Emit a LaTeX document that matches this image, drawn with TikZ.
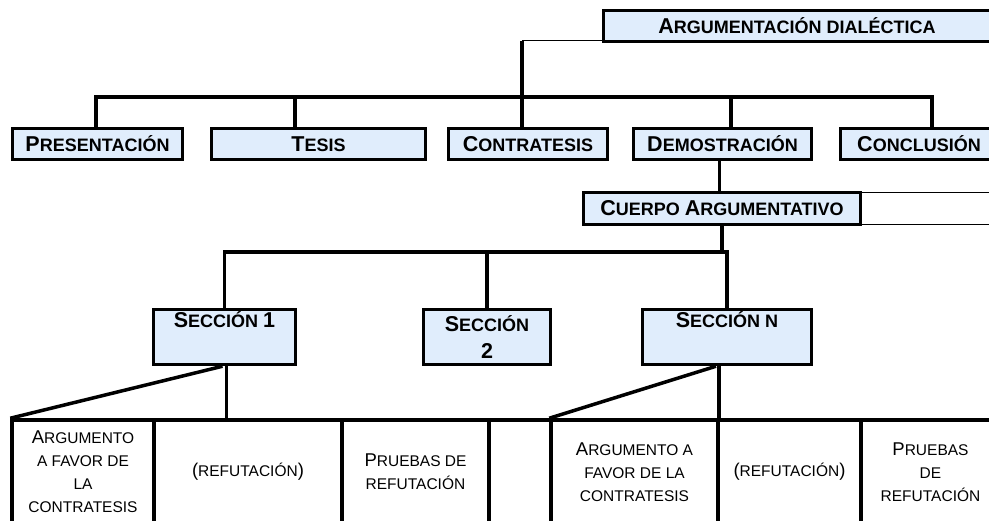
\documentclass[tikz,border=0pt]{standalone}
\usepackage{fontspec}
\setmainfont{Liberation Sans}
\usetikzlibrary{positioning}
\definecolor{boxblue}{RGB}{224,237,252}
\newcommand{\scb}[2]{{\fontsize{21.5}{27}\selectfont #1}#2}
\newcommand{\scr}[2]{{\fontsize{18.5}{23}\selectfont #1}#2}
\begin{document}
\begin{tikzpicture}[x=1pt, y=-1pt,
    head/.style ={draw, line width=3.5pt, fill=boxblue, inner sep=0pt, align=center,
      font=\bfseries\fontsize{18}{27}\selectfont},
    part/.style ={draw, line width=3.5pt, fill=white, inner sep=0pt, align=center,
      minimum height=104pt, font=\fontsize{15.5}{23}\selectfont},
    link/.style ={line width=3.5pt},
    thinlink/.style ={line width=1pt}]
   \useasboundingbox (0,0) rectangle (989,521);
   % top
   \node[head, minimum width=387pt, minimum height=31pt] (arg) at (797,26) {\scb{A}{RGUMENTACIÓN DIALÉCTICA}};
   \node[head, minimum width=170pt, minimum height=31pt] (pres) at (97.5,144) {\scb{P}{RESENTACIÓN}};
   \node[head, minimum width=214pt, minimum height=31pt] (tesis) at (318.5,144) {\scb{T}{ESIS}};
   \node[head, minimum width=159pt, minimum height=31pt] (contra) at (528,144) {\scb{C}{ONTRATESIS}};
   \node[head, minimum width=178pt, minimum height=31pt] (demo) at (722.5,144) {\scb{D}{EMOSTRACIÓN}};
   \node[head, minimum width=157pt, minimum height=31pt] (concl) at (919,144) {\scb{C}{ONCLUSIÓN}};
   \node[head, minimum width=277pt, minimum height=32pt] (cuerpo) at (722,208.5) {\scb{C}{UERPO} \scb{A}{RGUMENTATIVO}};
   % secciones
   \node[head, minimum width=142pt, minimum height=55pt] (sec1) at (224.5,337) {\scb{S}{ECCIÓN} \scb{1}{}\\ \strut};
   \node[head, minimum width=127pt, minimum height=55pt] (sec2) at (487,337) {\scb{S}{ECCIÓN}\\ \scb{2}{}};
   \node[head, minimum width=169pt, minimum height=55pt] (secN) at (727,337) {\scb{S}{ECCIÓN N}\\ \strut};
   % partes
   \node[part, minimum width=142pt] (c1) at (83,472) {\scr{A}{RGUMENTO}\\ A FAVOR DE\\ LA\\ CONTRATESIS};
   \node[part, minimum width=188pt] (c2) at (248,472) {\scr{(}{REFUTACIÓN}\scr{)}{}};
   \node[part, minimum width=147pt] (c3) at (415.5,472) {\scr{P}{RUEBAS DE}\\ REFUTACIÓN};
   \node[part, minimum width=62pt] (c4) at (520,472) {};
   \node[part, minimum width=167pt] (c5) at (634.5,472) {\scr{A}{RGUMENTO A}\\ FAVOR DE LA\\ CONTRATESIS};
   \node[part, minimum width=143pt] (c6) at (789.5,472) {\scr{(}{REFUTACIÓN}\scr{)}{}};
   \node[part, minimum width=139pt] (c7) at (930.5,472) {\scr{P}{RUEBAS}\\ DE\\ REFUTACIÓN};
   \coordinate (hub) at (522,41);
   \coordinate (bar1) at (0,97);
   \coordinate (bar2) at (0,252);
   \coordinate (rimT) at (995,193);
   \coordinate (rimB) at (995,225);
   \draw[thinlink] (hub) -- (hub -| arg.west);
   \draw[link] (hub) -- (hub |- contra.north);
   \draw[link] ([xshift=-1.5pt]pres.north) |- ([xshift=13pt]concl.north |- bar1) -- ([xshift=13pt]concl.north);
   \draw[link] ([xshift=-23.5pt]tesis.north) -- ([xshift=-23.5pt]tesis.north |- bar1);
   \draw[link] ([xshift=8.5pt]demo.north) -- ([xshift=8.5pt]demo.north |- bar1);
   \draw[link] ([xshift=-3pt]demo.south) -- ([xshift=-3pt]demo.south |- cuerpo.north);
   \draw[thinlink] (cuerpo.north east |- rimT) -- (rimT);
   \draw[thinlink] (cuerpo.south east |- rimB) -- (rimB);
   \draw[link] (sec1.north) |- (secN.north |- bar2) -- (secN.north);
   \draw[link] (cuerpo.south) -- (cuerpo.south |- bar2);
   \draw[link] (sec2.north) -- (sec2.north |- bar2);
   \draw[link] ([xshift=2pt]sec1.south) -- ([xshift=2pt]sec1.south |- c2.north);
   \draw[link] ([xshift=-2pt]sec1.south) -- (c1.north west);
   \draw[link] ([xshift=-8pt]secN.south) -- ([xshift=-8pt]secN.south |- c6.north);
   \draw[link] ([xshift=-11pt]secN.south) -- (c5.north west);
 \end{tikzpicture}
\end{document}
